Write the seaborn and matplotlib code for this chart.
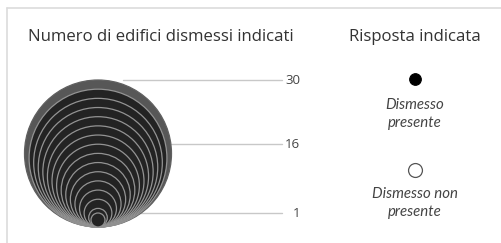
import matplotlib
matplotlib.use("Agg")
import matplotlib.pyplot as plt
import seaborn as sns
import pandas as pd
from matplotlib.patches import Circle

# ---- data ----
ring_values = [30, 28, 26, 24, 22, 20, 18, 16, 14, 12, 10, 8, 6, 4, 2, 1]
tick_values = [30, 16, 1]
tick_labels = ["30", "16", "1"]
size_title = "Numero di edifici dismessi indicati"
legend_title = "Risposta indicata"
legend_labels = ["Dismesso\npresente", "Dismesso non\npresente"]
legend_filled = [True, False]

# ---- size scale (diameter in px) ----
V_MIN, V_MAX = 1, 30
D_MIN, D_MAX = 14, 147
def diam(v):
    return D_MIN + (D_MAX - D_MIN) * (v - V_MIN) / (V_MAX - V_MIN)

sns.set_theme(style="white")
plt.rcParams["font.family"] = ["Open Sans", "DejaVu Sans"]

fig = plt.figure(figsize=(5.02, 2.43), dpi=100)
ax = fig.add_axes([0, 0, 1, 1])

# frame (top + left only)
ax.plot([7, 502], [8, 8], color="#dcdcdc", lw=1.2, zorder=0)
ax.plot([7, 7], [8, 243], color="#dcdcdc", lw=1.2, zorder=0)

cx, base = 98, 227
text_col = "#333333"

# reference lines behind circles
for v, lab in zip(tick_values, tick_labels):
    y = base - diam(v)
    ax.plot([123, 282], [y, y], color="#c8c8c8", lw=1.0, zorder=1)
    ax.text(300, y, lab, ha="right", va="center", fontsize=9.5, color="#444444")

# nested circles, bottom-aligned
for i, v in enumerate(ring_values):
    d = diam(v)
    face = "#575757" if i == 0 else "#232323"
    edge = "#606060" if i == 0 else "#939393"
    ax.add_patch(Circle((cx, base - d / 2), d / 2, facecolor=face,
                        edgecolor=edge, lw=0.9, zorder=2 + i))

ax.text(28, 37, size_title, ha="left", va="center", fontsize=12.1, color=text_col)
ax.text(415, 37, legend_title, ha="center", va="center", fontsize=12.1, color=text_col)

# legend markers
leg = pd.DataFrame({"x": [415, 415], "y": [79, 170], "filled": legend_filled})
sns.scatterplot(data=leg[leg.filled], x="x", y="y", ax=ax, s=70,
                color="black", edgecolor="black", linewidth=0.8, legend=False, zorder=5)
sns.scatterplot(data=leg[~leg.filled], x="x", y="y", ax=ax, s=100,
                facecolor="white", edgecolor="#555555", linewidth=0.9, legend=False, zorder=5)

ax.text(415, 114, legend_labels[0], ha="center", va="center", fontsize=10.8,
        style="italic", color="#444444", linespacing=1.35, family=["Lato", "DejaVu Sans"])
ax.text(415, 203, legend_labels[1], ha="center", va="center", fontsize=10.8,
        style="italic", color="#444444", linespacing=1.35, family=["Lato", "DejaVu Sans"])

ax.set_xlim(0, 502)
ax.set_ylim(243, 0)
ax.set_aspect("equal")
ax.axis("off")

fig.savefig("out.png", dpi=100)
